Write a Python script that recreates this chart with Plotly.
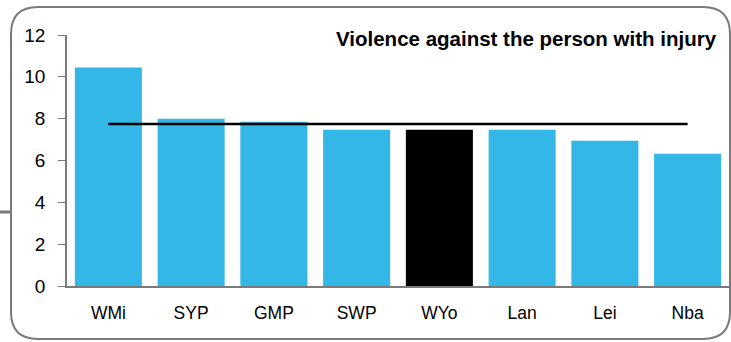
import plotly.graph_objects as go

categories = ["WMi", "SYP", "GMP", "SWP", "WYo", "Lan", "Lei", "Nba"]
values = [10.45, 8.0, 7.85, 7.47, 7.47, 7.47, 6.94, 6.32]
highlight = "WYo"
average = 7.75
title_text = "Violence against the person with injury"
y_ticks = [0, 2, 4, 6, 8, 10, 12]

BLUE = "#33B7E7"
colors = ["#000000" if c == highlight else BLUE for c in categories]

W, H = 731, 342
L, R, T, B = 67, 2, 35, 56
pw, ph = W - L - R, H - T - B

def px(x):
    return (x - L) / pw

def py(y):
    return (H - B - y) / ph

fig = go.Figure()
fig.add_trace(go.Bar(x=categories, y=values, marker=dict(color=colors, line=dict(width=0)),
                     width=0.81, showlegend=False, hoverinfo="x+y"))
fig.add_trace(go.Scatter(x=[categories[0], categories[-1]], y=[average, average], mode="lines",
                         line=dict(color="#000000", width=2.5), showlegend=False))

# rounded frame
x0, x1, y0, y1 = px(11), px(730), py(339), py(7)
rx, ry = 27 / pw, 27 / ph
path = (f"M {x0+rx},{y1} L {x1-rx},{y1} Q {x1},{y1} {x1},{y1-ry} "
        f"L {x1},{y0+ry} Q {x1},{y0} {x1-rx},{y0} L {x0+rx},{y0} "
        f"Q {x0},{y0} {x0},{y0+ry} L {x0},{y1-ry} Q {x0},{y1} {x0+rx},{y1} Z")
fig.add_shape(type="path", path=path, xref="paper", yref="paper",
              line=dict(color="#7a7a7a", width=2), fillcolor="rgba(0,0,0,0)", layer="below")
fig.add_shape(type="line", xref="paper", yref="paper", x0=px(0), x1=px(11), y0=py(212), y1=py(212),
              line=dict(color="#7a7a7a", width=3))

fig.add_annotation(text=f"<b>{title_text}</b>", xref="paper", yref="paper",
                   x=px(719), y=py(38.5), xanchor="right", yanchor="middle", showarrow=False,
                   font=dict(family="Liberation Sans, Arial", size=20.5, color="#000000"))

fig.update_layout(
    width=W, height=H, margin=dict(l=L, r=R, t=T, b=B),
    paper_bgcolor="white", plot_bgcolor="white",
    font=dict(family="Liberation Sans, Arial", color="#000000"),
    bargap=0.19,
    xaxis=dict(showline=True, linecolor="#7a7a7a", linewidth=1.5, ticks="", showgrid=False,
               tickfont=dict(size=17.5), ticklabelstandoff=10, fixedrange=True),
    yaxis=dict(range=[0, 12], tickvals=y_ticks, showline=True, linecolor="#7a7a7a", linewidth=1.5,
               ticks="outside", ticklen=7, tickcolor="#7a7a7a", showgrid=False, zeroline=False,
               tickfont=dict(size=19), ticklabelstandoff=9, fixedrange=True),
)
fig.write_html("out.html", config={"displayModeBar": False},
               post_script="document.body.style.margin='0';document.body.style.overflow='hidden';")
